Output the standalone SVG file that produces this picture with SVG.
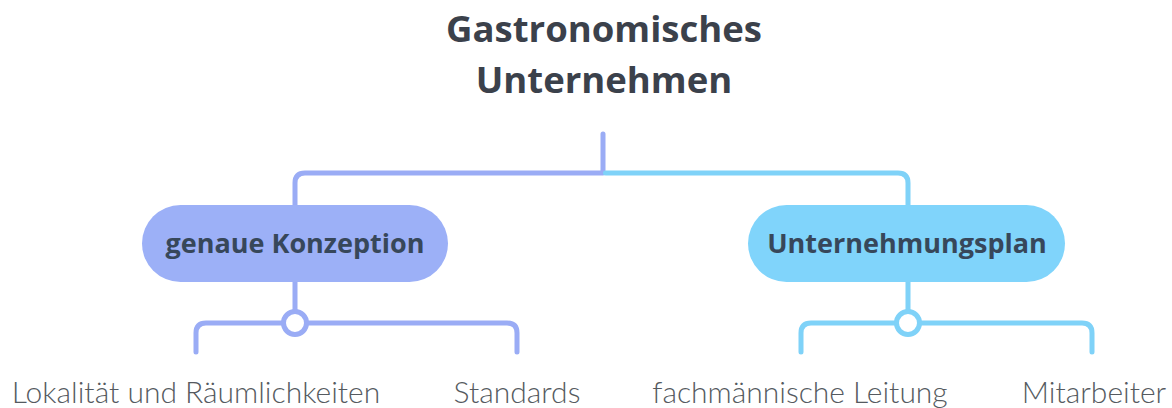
<svg xmlns="http://www.w3.org/2000/svg" width="1172" height="408" viewBox="0 0 1172 408">
<style>
.title{font-family:"Open Sans",Lato,sans-serif;font-weight:700;font-size:36.5px;fill:#3b414b;text-anchor:middle}
.topic{font-family:"Open Sans",Lato,sans-serif;font-weight:700;font-size:27px;fill:#37475a;text-anchor:middle}
.leaf{font-family:Lato,"Open Sans",sans-serif;font-weight:300;font-size:30px;fill:#555a60;text-anchor:middle}
.c1{fill:none;stroke:#9aacf5;stroke-width:5;stroke-linecap:round;stroke-linejoin:round}
.c2{fill:none;stroke:#7fd2f8;stroke-width:5;stroke-linecap:round;stroke-linejoin:round}
</style>
<rect width="1172" height="408" fill="#ffffff"/>
<g id="connectors">
<path class="c1" d="M603 134 V173 H305 Q295 173 295 183 V206"/>
<path class="c2" d="M605.5 173 H898 Q908 173 908 183 V206"/>
<path class="c1" d="M295 282 V311"/>
<path class="c1" d="M283.5 323 H206 Q196 323 196 333 V352"/>
<path class="c1" d="M306.5 323 H507 Q517 323 517 333 V352"/>
<circle class="c1" cx="295" cy="323" r="11.5" fill="#ffffff"/>
<path class="c2" d="M908 282 V311"/>
<path class="c2" d="M896.5 323 H811 Q801 323 801 333 V352"/>
<path class="c2" d="M919.5 323 H1082 Q1092 323 1092 333 V352"/>
<circle class="c2" cx="908" cy="323" r="11.5" fill="#ffffff"/>
</g>
<g id="root">
<text class="title" x="604" y="42">Gastronomisches</text>
<text class="title" x="604" y="93">Unternehmen</text>
</g>
<g id="node-konzeption">
<rect x="142" y="205" width="306" height="77" rx="38.5" fill="#9cb0f7"/>
<text class="topic" x="295" y="253">genaue Konzeption</text>
</g>
<g id="node-plan">
<rect x="748" y="205" width="317" height="77" rx="38.5" fill="#80d4fb"/>
<text class="topic" x="907" y="253">Unternehmungsplan</text>
</g>
<g id="leaf-lokalitaet"><text class="leaf" x="196" y="403">Lokalität und Räumlichkeiten</text></g>
<g id="leaf-standards"><text class="leaf" x="517" y="403">Standards</text></g>
<g id="leaf-leitung"><text class="leaf" x="800" y="403">fachmännische Leitung</text></g>
<g id="leaf-mitarbeiter"><text class="leaf" x="1094" y="403">Mitarbeiter</text></g>
</svg>
